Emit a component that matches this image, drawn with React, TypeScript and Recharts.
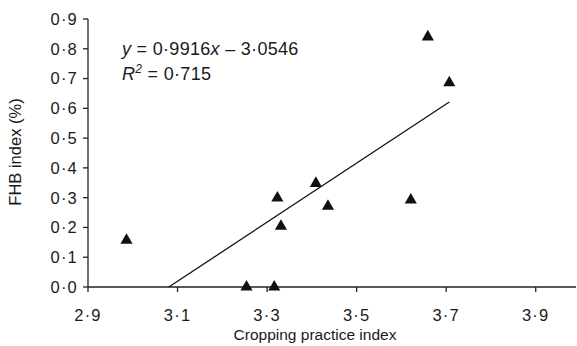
import React from "react";
import {
  ScatterChart,
  Scatter,
  XAxis,
  YAxis,
  ZAxis,
  Customized,
} from "recharts";

// measured points
const croppingIndex = [2.986, 3.254, 3.316, 3.323, 3.331, 3.409, 3.436, 3.621, 3.659, 3.707];
const fhbIndex = [0.157, 0.0, 0.0, 0.299, 0.204, 0.348, 0.271, 0.292, 0.84, 0.686];

// fitted line ends (y = 0.9916x - 3.0546)
const fitX = [3.0805, 3.707];
const fitY = [0.0, 0.621];

const xTicks = [2.9, 3.1, 3.3, 3.5, 3.7, 3.9];
const yTicks = [0, 0.1, 0.2, 0.3, 0.4, 0.5, 0.6, 0.7, 0.8, 0.9];

const points = croppingIndex.map((x, i) => ({ x, y: fhbIndex[i] }));
const fitLine = fitX.map((x, i) => ({ x, y: fitY[i] }));

const FONT = "'Liberation Sans', Arial, Helvetica, sans-serif";
const dot = (v: number) => v.toFixed(1).replace(".", "\u00b7");

const Annotations = () => (
  <g fontFamily={FONT} fill="#1a1a1a">
    <text x={122} y={55} fontSize={18} letterSpacing={0.3}>
      <tspan fontStyle="italic">y</tspan>
      <tspan> = 0·9916</tspan>
      <tspan fontStyle="italic">x</tspan>
      <tspan> – 3·0546</tspan>
    </text>
    <text x={122} y={80} fontSize={18} letterSpacing={0.3}>
      <tspan fontStyle="italic">R</tspan>
      <tspan fontStyle="italic" fontSize={12} dy={-7}>2</tspan>
      <tspan dy={7}> = 0·715</tspan>
    </text>
    <text
      x={21}
      y={152}
      fontSize={16.5}
      textAnchor="middle"
      transform="rotate(-90 21 152)"
    >
      FHB index (%)
    </text>
    <text x={315} y={340} fontSize={15.5} textAnchor="middle">
      Cropping practice index
    </text>
  </g>
);

const App = () => {
  return (
    <div style={{ position: "absolute", left: 0, top: 0, background: "#fff" }}>
      <ScatterChart
        width={577}
        height={346}
        margin={{ top: 19, right: 1, bottom: 0, left: 0 }}
      >
        <XAxis
          type="number"
          dataKey="x"
          domain={[2.9, 3.99]}
          ticks={xTicks}
          allowDataOverflow
          tickFormatter={dot}
          stroke="#222"
          strokeWidth={1.3}
          tickSize={5}
          tickMargin={17}
          height={59}
          tick={{ fill: "#1a1a1a", fontSize: 16.5, fontFamily: FONT, letterSpacing: 1.2 }}
        />
        <YAxis
          type="number"
          dataKey="y"
          domain={[0, 0.9]}
          ticks={yTicks}
          tickFormatter={dot}
          stroke="#222"
          strokeWidth={1.3}
          tickSize={5}
          tickMargin={5}
          width={88}
          tick={{ fill: "#1a1a1a", fontSize: 16.5, fontFamily: FONT, letterSpacing: 1.2 }}
        />
        <ZAxis range={[95, 95]} />
        <Scatter
          data={fitLine}
          line={{ stroke: "#111", strokeWidth: 1.3 }}
          shape={() => null}
          isAnimationActive={false}
        />
        <Scatter
          data={points}
          shape="triangle"
          fill="#111"
          isAnimationActive={false}
        />
        <Customized component={Annotations} />
      </ScatterChart>
    </div>
  );
};

export default App;
